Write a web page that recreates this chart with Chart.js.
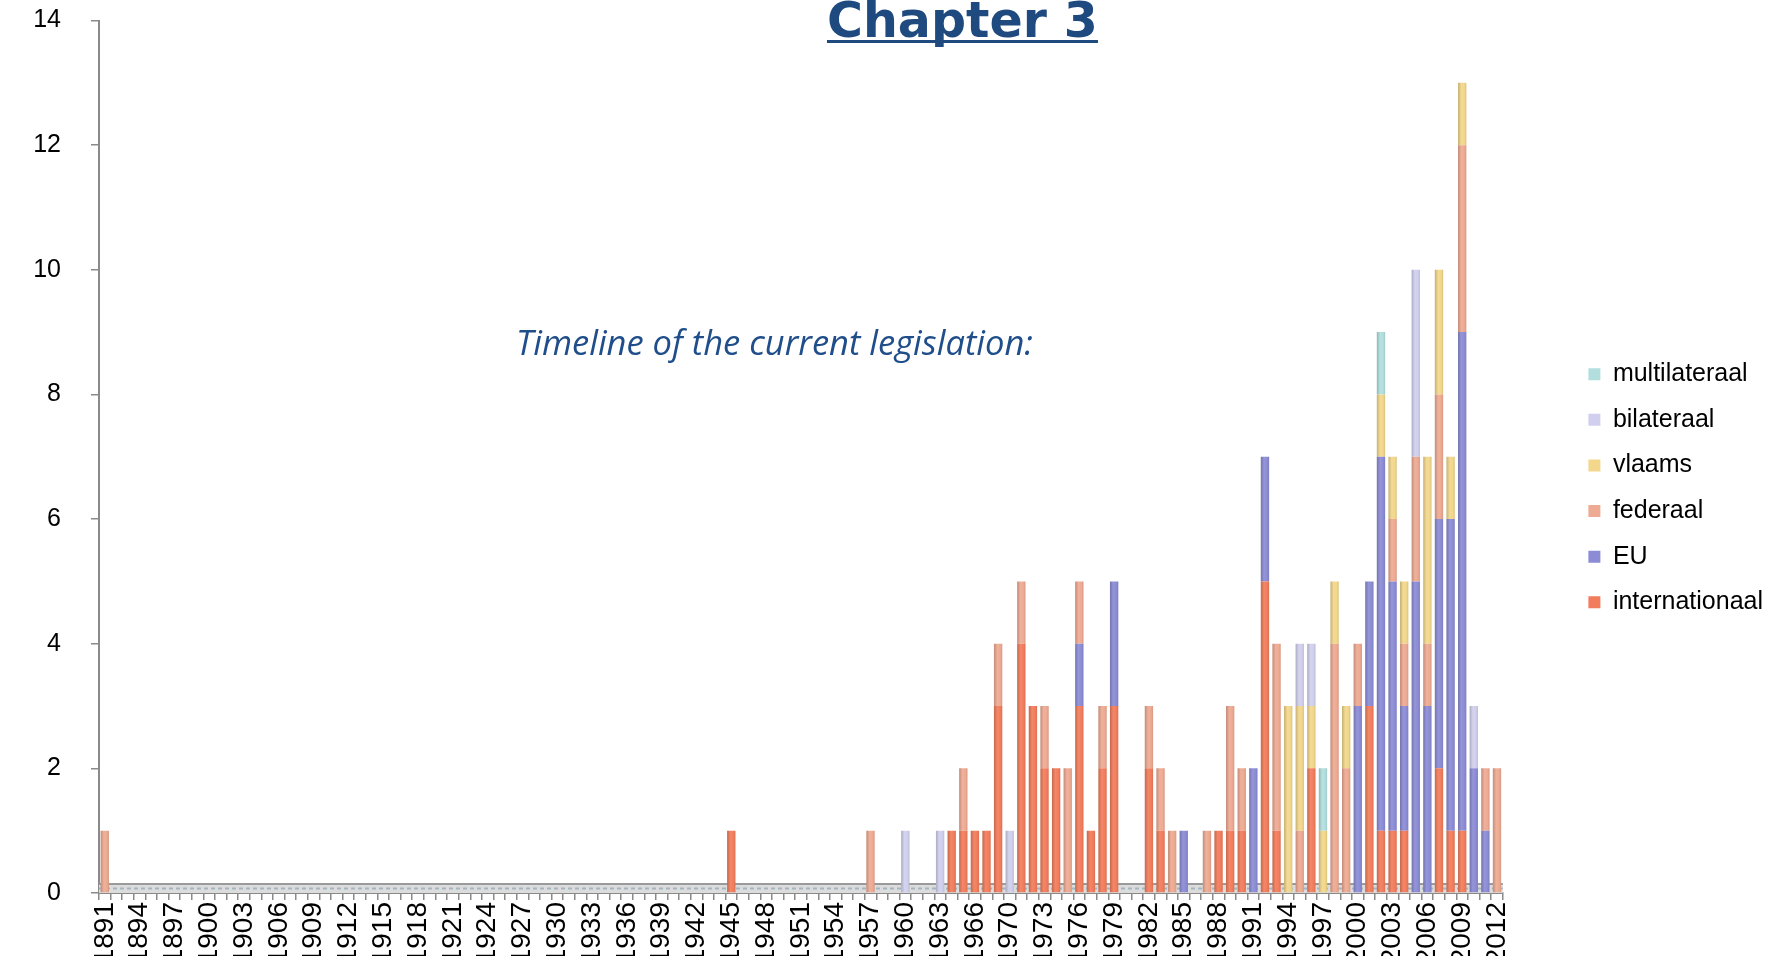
<!DOCTYPE html>
<html>
<head>
<meta charset="utf-8">
<script src="https://cdn.jsdelivr.net/npm/chart.js@4.4.0/dist/chart.umd.min.js"></script>
<style>
html, body { margin: 0; padding: 0; background: #ffffff; overflow: hidden; }
#wrap { position: relative; width: 1787px; height: 973px; }
#c { position: absolute; left: 0; top: 0; }
#title { position: absolute; left: 827px; top: -4px; font: bold 49px/49px "DejaVu Sans"; color: #1F4A80;
  text-decoration: underline; text-decoration-thickness: 3px; text-underline-offset: 3px;
  text-decoration-skip-ink: none; white-space: nowrap; }
#sub { position: absolute; left: 516px; top: 325px; font: italic 34.5px/34.5px "Open Sans"; color: #1F4E8A; white-space: nowrap; }
</style>
</head>
<body>
<div id="wrap">
  <canvas id="c" width="1787" height="973"></canvas>
  <div id="title">Chapter 3</div>
  <div id="sub">Timeline of the current legislation:</div>
</div>
<script>
// ---- categories (years) ----
const years = [
  1891,1892,1893,1894,1895,1896,1897,1898,1899,1900,
  1901,1902,1903,1904,1905,1906,1907,1908,1909,1910,
  1911,1912,1913,1914,1915,1916,1917,1918,1919,1920,
  1921,1922,1923,1924,1925,1926,1927,1928,1929,1930,
  1931,1932,1933,1934,1935,1936,1937,1938,1939,1940,
  1941,1942,1943,1944,1945,1946,1947,1948,1949,1950,
  1951,1952,1953,1954,1955,1956,1957,1958,1959,1960,
  1961,1962,1963,1964,1965,1966,1967,1968,1970,1971,
  1972,1973,1974,1975,1976,1977,1978,1979,1980,1981,
  1982,1983,1984,1985,1986,1987,1988,1989,1990,1991,
  1992,1993,1994,1995,1996,1997,1998,1999,2000,2001,
  2002,2003,2004,2005,2006,2007,2008,2009,2010,2011,
  2012
];

// ---- series values (one per year above) ----
const internationaal = [
  0,0,0,0,0,0,0,0,0,0,
  0,0,0,0,0,0,0,0,0,0,
  0,0,0,0,0,0,0,0,0,0,
  0,0,0,0,0,0,0,0,0,0,
  0,0,0,0,0,0,0,0,0,0,
  0,0,0,0,1,0,0,0,0,0,
  0,0,0,0,0,0,0,0,0,0,
  0,0,0,1,1,1,1,3,0,4,
  3,2,2,0,3,1,2,3,0,0,
  2,1,0,0,0,0,1,1,1,0,
  5,1,0,0,2,0,0,0,0,3,
  1,1,1,0,0,2,1,1,0,0,
  0
];
const EU = [
  0,0,0,0,0,0,0,0,0,0,
  0,0,0,0,0,0,0,0,0,0,
  0,0,0,0,0,0,0,0,0,0,
  0,0,0,0,0,0,0,0,0,0,
  0,0,0,0,0,0,0,0,0,0,
  0,0,0,0,0,0,0,0,0,0,
  0,0,0,0,0,0,0,0,0,0,
  0,0,0,0,0,0,0,0,0,0,
  0,0,0,0,1,0,0,2,0,0,
  0,0,0,1,0,0,0,0,0,2,
  2,0,0,0,0,0,0,0,3,2,
  6,4,2,5,3,4,5,8,2,1,
  0
];
const federaal = [
  1,0,0,0,0,0,0,0,0,0,
  0,0,0,0,0,0,0,0,0,0,
  0,0,0,0,0,0,0,0,0,0,
  0,0,0,0,0,0,0,0,0,0,
  0,0,0,0,0,0,0,0,0,0,
  0,0,0,0,0,0,0,0,0,0,
  0,0,0,0,0,0,1,0,0,0,
  0,0,0,0,1,0,0,1,0,1,
  0,1,0,2,1,0,1,0,0,0,
  1,1,1,0,0,1,0,2,1,0,
  0,3,0,1,0,0,4,2,1,0,
  0,1,1,2,1,2,0,3,0,1,
  2
];
const vlaams = [
  0,0,0,0,0,0,0,0,0,0,
  0,0,0,0,0,0,0,0,0,0,
  0,0,0,0,0,0,0,0,0,0,
  0,0,0,0,0,0,0,0,0,0,
  0,0,0,0,0,0,0,0,0,0,
  0,0,0,0,0,0,0,0,0,0,
  0,0,0,0,0,0,0,0,0,0,
  0,0,0,0,0,0,0,0,0,0,
  0,0,0,0,0,0,0,0,0,0,
  0,0,0,0,0,0,0,0,0,0,
  0,0,3,2,1,1,1,1,0,0,
  1,1,1,0,3,2,1,1,0,0,
  0
];
const bilateraal = [
  0,0,0,0,0,0,0,0,0,0,
  0,0,0,0,0,0,0,0,0,0,
  0,0,0,0,0,0,0,0,0,0,
  0,0,0,0,0,0,0,0,0,0,
  0,0,0,0,0,0,0,0,0,0,
  0,0,0,0,0,0,0,0,0,0,
  0,0,0,0,0,0,0,0,0,1,
  0,0,1,0,0,0,0,0,1,0,
  0,0,0,0,0,0,0,0,0,0,
  0,0,0,0,0,0,0,0,0,0,
  0,0,0,1,1,0,0,0,0,0,
  0,0,0,3,0,0,0,0,1,0,
  0
];
const multilateraal = [
  0,0,0,0,0,0,0,0,0,0,
  0,0,0,0,0,0,0,0,0,0,
  0,0,0,0,0,0,0,0,0,0,
  0,0,0,0,0,0,0,0,0,0,
  0,0,0,0,0,0,0,0,0,0,
  0,0,0,0,0,0,0,0,0,0,
  0,0,0,0,0,0,0,0,0,0,
  0,0,0,0,0,0,0,0,0,0,
  0,0,0,0,0,0,0,0,0,0,
  0,0,0,0,0,0,0,0,0,0,
  0,0,0,0,0,1,0,0,0,0,
  1,0,0,0,0,0,0,0,0,0,
  0
];
const yTicks = [0, 2, 4, 6, 8, 10, 12, 14];

// ---- styling ----
const COLORS = {
  internationaal: '#F27D5C',
  EU: '#8C8CD6',
  federaal: '#EEAA92',
  vlaams: '#F2D78C',
  bilateraal: '#D0D0EE',
  multilateraal: '#B2DEDE'
};
const BAR_PCT = 0.72;
const FONT = '"Liberation Sans", Arial, sans-serif';

function shade(hex, f) {
  const n = parseInt(hex.slice(1), 16);
  let r = (n >> 16) & 255, g = (n >> 8) & 255, b = n & 255;
  if (f < 1) { r *= f; g *= f; b *= f; }
  else { const t = f - 1; r += (255 - r) * t; g += (255 - g) * t; b += (255 - b) * t; }
  return 'rgb(' + Math.round(r) + ',' + Math.round(g) + ',' + Math.round(b) + ')';
}
function barFill(base) {
  return function (ctx) {
    if (ctx.type !== 'data') return base;
    const chart = ctx.chart;
    const xs = chart.scales && chart.scales.x;
    if (!xs || !chart.chartArea) return base;
    const cx = xs.getPixelForValue(ctx.dataIndex);
    const w = (xs.width / years.length) * BAR_PCT;
    const g = chart.ctx.createLinearGradient(cx - w / 2, 0, cx + w / 2, 0);
    g.addColorStop(0, shade(base, 0.82));
    g.addColorStop(0.4, shade(base, 1.08));
    g.addColorStop(0.75, base);
    g.addColorStop(1, shade(base, 0.9));
    return g;
  };
}

const floorPlugin = {
  id: 'floor',
  beforeDatasetsDraw(chart) {
    const { ctx, chartArea } = chart;
    const y0 = chart.scales.y.getPixelForValue(0);
    ctx.save();
    ctx.fillStyle = '#dcdcdc';
    ctx.fillRect(chartArea.left, y0 - 9, chartArea.right - chartArea.left, 9);
    ctx.strokeStyle = '#9a9a9a';
    ctx.lineWidth = 2;
    ctx.beginPath();
    ctx.moveTo(chartArea.left, y0 - 9);
    ctx.lineTo(chartArea.right, y0 - 9);
    ctx.stroke();
    ctx.strokeStyle = '#a3b6c0';
    ctx.lineWidth = 2;
    ctx.setLineDash([4, 3]);
    ctx.beginPath();
    ctx.moveTo(chartArea.left, y0 - 4.5);
    ctx.lineTo(chartArea.right, y0 - 4.5);
    ctx.stroke();
    ctx.restore();
  }
};

function ds(label, data, color) {
  return {
    label: label,
    data: data,
    backgroundColor: barFill(color),
    borderColor: color,
    borderWidth: 0,
    barPercentage: BAR_PCT,
    categoryPercentage: 1.0
  };
}

new Chart(document.getElementById('c'), {
  type: 'bar',
  data: {
    labels: years,
    datasets: [
      ds('internationaal', internationaal, COLORS.internationaal),
      ds('EU', EU, COLORS.EU),
      ds('federaal', federaal, COLORS.federaal),
      ds('vlaams', vlaams, COLORS.vlaams),
      ds('bilateraal', bilateraal, COLORS.bilateraal),
      ds('multilateraal', multilateraal, COLORS.multilateraal)
    ]
  },
  options: {
    responsive: false,
    animation: false,
    layout: { padding: { top: 20.5, right: 14, bottom: 17, left: 0 } },
    plugins: {
      legend: {
        position: 'right',
        align: 'center',
        reverse: true,
        labels: {
          font: { family: FONT, size: 25 },
          color: '#000000',
          boxWidth: 12,
          boxHeight: 12,
          padding: 20.6,
          generateLabels: function (chart) {
            return Chart.defaults.plugins.legend.labels.generateLabels(chart).map(function (l) {
              l.fillStyle = COLORS[l.text];
              l.strokeStyle = COLORS[l.text];
              l.lineWidth = 0;
              return l;
            });
          }
        }
      },
      tooltip: { enabled: false }
    },
    scales: {
      x: {
        stacked: true,
        grid: { drawOnChartArea: false, drawTicks: true, tickLength: 7, color: '#8a8a8a', lineWidth: 1.5 },
        border: { color: '#8a8a8a', width: 2 },
        ticks: {
          autoSkip: false,
          minRotation: 90,
          maxRotation: 90,
          padding: 2,
          color: '#000000',
          font: { family: FONT, size: 28 },
          callback: function (v, i) { return i % 3 === 0 ? String(years[i]) : ''; }
        },
        afterFit: function (s) { s.height = 63; }
      },
      y: {
        stacked: true,
        min: yTicks[0],
        max: yTicks[yTicks.length - 1],
        afterBuildTicks: function (s) { s.ticks = yTicks.map(v => ({ value: v })); },
        grid: { drawOnChartArea: false, drawTicks: true, tickLength: 8, color: '#8a8a8a', lineWidth: 1.5 },
        border: { color: '#8a8a8a', width: 2 },
        ticks: { color: '#000000', padding: 30, font: { family: FONT, size: 25 } },
        afterFit: function (s) { s.width = 99; s.paddingTop = 0; s.paddingBottom = 0; }
      },
      spacer: {
        type: 'linear',
        position: 'right',
        display: true,
        min: 0, max: 1,
        grid: { display: false },
        border: { display: false },
        ticks: { display: false },
        afterFit: function (s) { s.width = 65; s.paddingTop = 0; s.paddingBottom = 0; }
      }
    }
  },
  plugins: [floorPlugin]
});
</script>
</body>
</html>
